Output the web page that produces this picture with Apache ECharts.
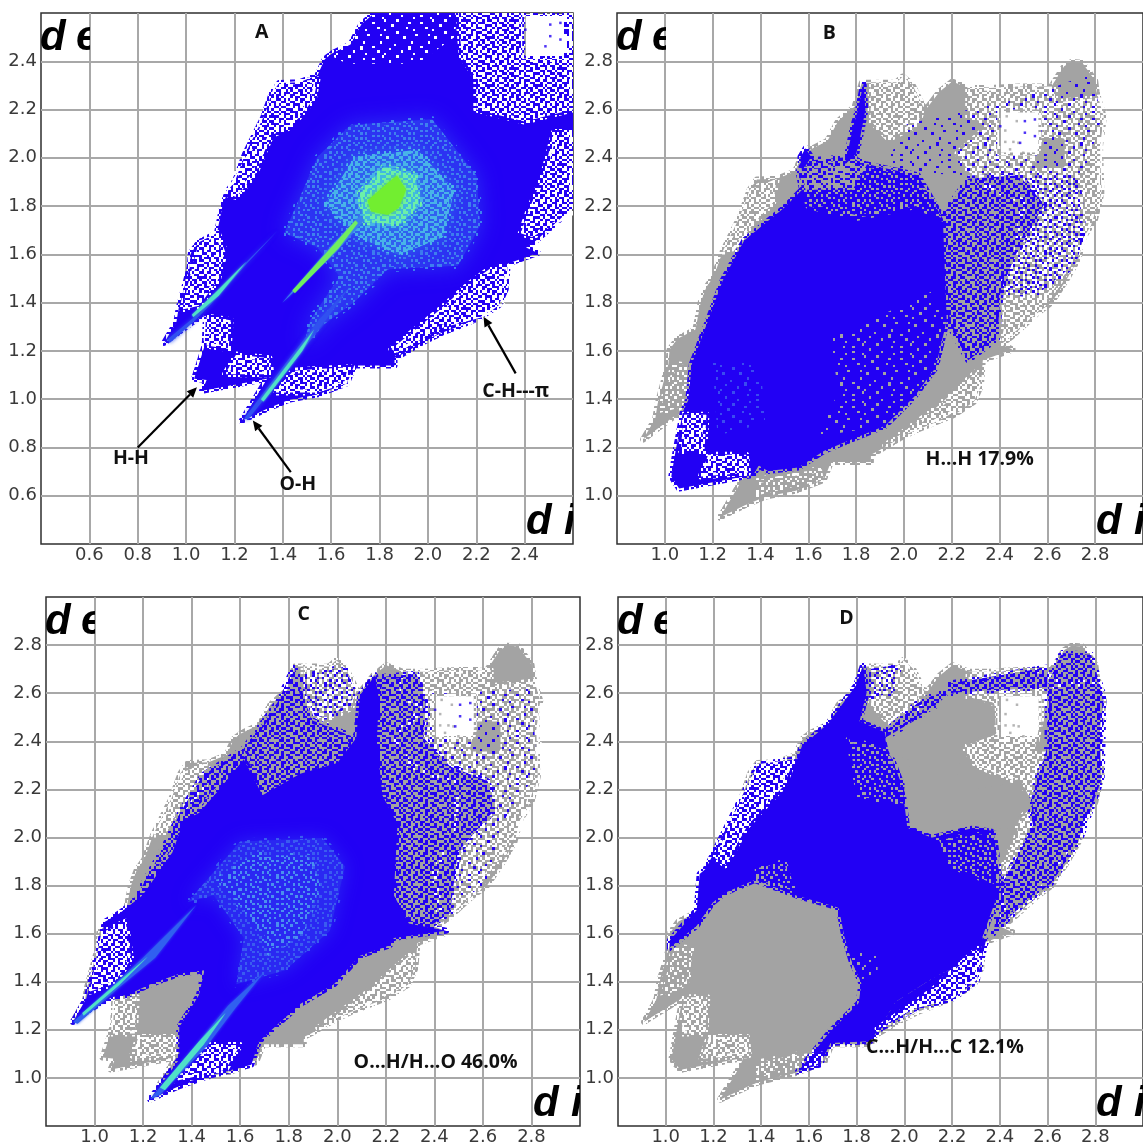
<!DOCTYPE html>
<html><head><meta charset="utf-8">
<style>html,body{margin:0;padding:0;background:#fff;overflow:hidden}#c{width:1143px;height:1146px}</style>
<script src="https://cdn.jsdelivr.net/npm/echarts@6/dist/echarts.min.js"></script>
</head><body><div id="c"></div>
<script>
const BLUE='#2200f4', GRAY='#a3a3a3', WHITE='#ffffff';
const axisRanges=[[0.4,2.6],[0.8,3.0],[0.8,3.0],[0.8,3.0]];
const grids=[{left:41,top:13,width:532,height:531},{left:617,top:13,width:532,height:531},{left:46,top:597,width:534,height:533},{left:618,top:597,width:532,height:530}];

// ---- stipple textures (fingerprint bins) ----
const tileDense=["X.X..XX.X.XX..X.X.XX",".XX.X..XX..X.XX..X.X","X..XX.X..XX.X..XX..X",".X...XX.X.X..X.X.XX.","XX.X.X..XX..XX..X..X","..XX..XX..X.X.XX.XX.","X...XX.X.XX..X..X..X",".XX.X...X..XX.XX.X..","X.X..XX.XX.X....XX.X","..XXX..X..X.XX.X..X.","XX...X.XX..X..XX.X.X",".X.XX.X..XX.X...XX..","X..X.XX.X...XX.X..XX",".XX..X..XX.X..XX.X..","X..XX.XX..X.XX...X.X","XX....X.XX..X.X.XX..","..X.XX.X..XX...XX..X","X.XX..X.X..X.XX..XX.",".X..X.XX.XX.X..X.X..","X..XX...X..XX.X..X.X"];
const tileMed=["X....X..X...X.X.....","..X.X.....X.....X..X",".....X.X....X.X.....","X.X......X.X.....X..","...X..X.....X..X...X",".X.....X.X.....X.X..","....X.....X.X.....X.","X.....X.X......X....","..X.X......X.X....X.",".....X.X......X.X...","X.X.....X..X.......X","....X.X.....X..X.X..",".X......X.X......X..","...X.X.....X.X.....X","X......X.X.....X.X..","..X.X.....X.X.......",".....X.X.......X.X.X","X.X.....X.X.X.......","...X.X.......X.X..X.",".X.....X.X.X.....X.."];
const tileSparse=["..X.......X.........",".......X.........X..","X...........X.......",".....X.............X","...........X...X....","..X.................",".......X.......X....","............X......X","X....X..............","..........X....X....","...X................",".........X.......X..","X...........X.......",".....X..............",".............X....X.",".X......X...........","....................","...........X......X.","....X...............","..........X....X...."];
const tiles={dense:tileDense,med:tileMed,sparse:tileSparse};

// ---- the whole fingerprint outline (d_i, d_e) ----
const fullOutline=[[0.909,1.233],[0.96,1.32],[0.97,1.38],[1.015,1.546],[1.02,1.606],[1.053,1.65],[1.128,1.689],[1.15,1.8],[1.174,1.865],[1.204,1.907],[1.242,2.012],[1.317,2.162],[1.355,2.268],[1.385,2.31],[1.469,2.313],[1.544,2.343],[1.574,2.41],[1.605,2.433],[1.68,2.47],[1.725,2.553],[1.794,2.613],[1.824,2.711],[1.862,2.711],[1.967,2.711],[1.995,2.737],[2.035,2.704],[2.08,2.613],[2.096,2.606],[2.149,2.674],[2.202,2.716],[2.27,2.689],[2.36,2.689],[2.48,2.696],[2.617,2.696],[2.67,2.779],[2.7,2.797],[2.746,2.794],[2.8,2.719],[2.806,2.674],[2.836,2.568],[2.82,2.448],[2.826,2.253],[2.8,2.147],[2.753,2.072],[2.73,1.982],[2.678,1.892],[2.617,1.8],[2.557,1.756],[2.45,1.659],[2.406,1.628],[2.454,1.606],[2.413,1.591],[2.33,1.561],[2.322,1.456],[2.292,1.388],[2.209,1.335],[2.118,1.298],[2.058,1.275],[1.982,1.238],[1.892,1.185],[1.862,1.17],[1.862,1.14],[1.695,1.14],[1.665,1.065],[1.544,1.02],[1.423,0.997],[1.333,0.959],[1.23,0.91],[1.335,1.085],[1.066,1.035],[1.085,1.08],[1.033,1.085],[1.054,1.148],[1.077,1.223],[1.082,1.346],[1.039,1.328],[1.0,1.3]];
const emptyBox=[[2.39,2.41],[2.575,2.41],[2.575,2.6],[2.39,2.6]];
const boxSpecksGray=[[2.43,2.572],[2.472,2.552],[2.424,2.513],[2.424,2.466],[2.458,2.466],[2.499,2.421],[2.444,2.435],[2.479,2.462]];
const boxSpecksBlue=[[2.506,2.552],[2.506,2.504],[2.548,2.559],[2.548,2.49],[2.403,2.531],[2.486,2.462]];

// ---- gray speckled zones shared by B, C, D ----
const gUR=[[2.269,2.689],[2.632,2.696],[2.632,2.629],[2.828,2.651],[2.836,2.569],[2.825,2.253],[2.753,2.027],[2.556,1.756],[2.405,1.629],[2.42,1.7],[2.4,1.85],[2.47,2.0],[2.5,2.22],[2.3,2.3],[2.224,2.418],[2.36,2.539],[2.269,2.569]];
const gTop=[[1.861,2.711],[1.967,2.711],[1.995,2.737],[2.035,2.704],[2.08,2.613],[2.058,2.539],[1.937,2.478],[1.861,2.554]];
const gLeft1=[[1.242,2.012],[1.317,2.163],[1.355,2.268],[1.468,2.313],[1.453,2.215],[1.363,2.117],[1.287,2.012]];
const gHH=[[0.977,1.343],[1.038,1.546],[1.113,1.538],[1.098,1.396],[1.06,1.365]];
const gLR=[[1.922,1.208],[2.118,1.35],[2.307,1.516],[2.322,1.456],[2.292,1.388],[2.118,1.298],[1.967,1.238]];
const gBot=[[1.378,1.0],[1.665,1.065],[1.657,1.11],[1.544,1.095],[1.393,1.065]];
const gWedge1=[[1.076,1.335],[1.174,1.335],[1.166,1.185],[1.068,1.185]];
const gWedge2=[[1.181,1.17],[1.34,1.17],[1.348,1.095],[1.151,1.08]];
const gChunk=[[2.56,2.37],[2.66,2.37],[2.66,2.47],[2.58,2.47]];

// ---- panel A ----
const aWhiteUL=[[1.368,2.31],[1.543,2.325],[1.528,2.243],[1.436,2.13],[1.352,2.093],[1.283,1.928],[1.207,1.838],[1.161,1.853],[1.238,1.988],[1.299,2.108],[1.337,2.213]];
const aWhiteTop=[[1.735,2.543],[1.773,2.6],[2.125,2.6],[2.109,2.5],[1.956,2.39],[1.666,2.39],[1.605,2.42]];
const aWhiteTR=[[2.125,2.6],[2.6,2.6],[2.6,2.2],[2.4,2.15],[2.2,2.2],[2.2,2.33],[2.14,2.42]];
const aWhiteRight=[[2.522,2.107],[2.6,2.107],[2.6,1.762],[2.43,1.672],[2.384,1.687],[2.415,1.777],[2.476,1.927]];
const aWhiteCH=[[2.338,1.552],[2.308,1.402],[2.232,1.342],[2.063,1.297],[1.872,1.192],[1.849,1.208],[2.033,1.357],[2.17,1.477],[2.262,1.545]];
const aWhiteOH=[[1.36,1.028],[1.543,1.028],[1.666,1.065],[1.681,1.132],[1.543,1.125],[1.444,1.118]];
const aWhiteWedge=[[1.161,1.103],[1.207,1.185],[1.345,1.17],[1.352,1.103]];
const aWhiteNotch=[[1.085,1.343],[1.184,1.327],[1.176,1.208],[1.085,1.222]];
const aWhiteHH=[[0.985,1.372],[1.008,1.477],[1.054,1.656],[1.131,1.688],[1.161,1.613],[1.131,1.493],[1.054,1.387]];
const aHaze=[[1.406,1.689],[1.543,2.003],[1.681,2.137],[2.018,2.16],[2.201,1.926],[2.216,1.719],[2.124,1.553],[1.834,1.538],[1.696,1.403],[1.574,1.313],[1.482,1.208],[1.513,1.328],[1.635,1.508],[1.543,1.628]];
const aMid=[[1.574,1.808],[1.697,2.003],[1.956,2.033],[2.109,1.867],[2.063,1.672],[1.88,1.597],[1.712,1.672]];
const aCore=[[1.719,1.853],[1.819,1.965],[1.949,1.929],[1.964,1.808],[1.887,1.725],[1.735,1.733]];
const aHeart=[[1.75,1.823],[1.819,1.883],[1.872,1.928],[1.91,1.868],[1.88,1.793],[1.834,1.763],[1.765,1.778]];
const aStreakHHOuter=[[0.92,1.245],[1.054,1.357],[1.2,1.52],[1.38,1.7],[1.25,1.56],[1.1,1.39],[1.03,1.32],[0.935,1.235]];
const aStreakHHInner=[[1.024,1.35],[1.12,1.44],[1.25,1.57],[1.135,1.43],[1.03,1.34]];
const aStreakMidOuter=[[1.398,1.4],[1.6,1.635],[1.72,1.76],[1.735,1.74],[1.62,1.61]];
const aStreakMidInner=[[1.44,1.45],[1.62,1.65],[1.7,1.74],[1.71,1.73],[1.63,1.625],[1.45,1.44]];
const aStreakOHOuter=[[1.24,0.92],[1.42,1.16],[1.55,1.33],[1.68,1.47],[1.58,1.33],[1.45,1.16],[1.255,0.915]];
const aStreakOHInner=[[1.31,1.0],[1.47,1.21],[1.53,1.29],[1.48,1.2],[1.32,0.99]];
const aTexts=[[1.313,2.52,'A'],[0.772,0.755,'H-H'],[1.462,0.648,'O-H'],[2.363,1.032,'C-H---π']];
const aArrows=[[[0.8,0.8],[1.045,1.049]],[[1.433,0.698],[1.276,0.912]],[[2.363,1.107],[2.23,1.342]]];

// ---- panel B ----
const bSolid=[[1.027,1.08],[1.06,1.03],[1.37,1.087],[1.393,1.125],[1.431,1.102],[1.559,1.117],[1.665,1.185],[1.755,1.223],[1.922,1.29],[2.043,1.41],[2.133,1.531],[2.179,1.726],[2.163,2.148],[2.058,2.328],[1.846,2.373],[1.786,2.268],[1.574,2.268],[1.499,2.193],[1.332,2.057],[1.242,1.892],[1.181,1.726],[1.113,1.546],[1.098,1.396],[1.076,1.35],[1.045,1.185]];
const bSpike=[[1.831,2.711],[1.839,2.599],[1.82,2.5],[1.801,2.418],[1.755,2.373],[1.786,2.524],[1.808,2.6]];
const bBlob=[[1.567,2.403],[1.589,2.44],[1.612,2.403],[1.574,2.343]];
const bInner=[[2.163,2.163],[2.269,2.313],[2.481,2.328],[2.587,2.208],[2.466,1.997],[2.405,1.847],[2.39,1.651],[2.269,1.561],[2.179,1.726]];
const bOuter=[[2.481,2.328],[2.723,2.328],[2.753,2.087],[2.723,1.967],[2.556,1.832],[2.405,1.847],[2.466,1.997],[2.587,2.208]];
const bTopSparse=[[1.907,2.343],[2.012,2.539],[2.269,2.599],[2.42,2.629],[2.617,2.689],[2.783,2.749],[2.828,2.569],[2.753,2.328],[2.269,2.328]];
const bUpperLeft=[[1.559,2.343],[1.589,2.388],[1.771,2.403],[1.846,2.373],[1.786,2.268],[1.574,2.268]];
const bGrayLR=[[1.695,1.651],[2.118,1.847],[2.179,1.726],[2.133,1.531],[2.043,1.41],[1.922,1.29],[1.635,1.245],[1.725,1.426]];
const bGrayTop=[[1.574,2.35],[1.846,2.373],[2.058,2.328],[2.163,2.148],[2.05,2.2],[1.8,2.15],[1.6,2.2]];
const bWhite1=[[1.076,1.335],[1.174,1.335],[1.166,1.185],[1.068,1.185]];
const bWhite2=[[1.181,1.17],[1.34,1.17],[1.348,1.095],[1.151,1.08]];
const bLight=[[1.2,1.55],[1.4,1.55],[1.42,1.3],[1.22,1.25]];
const bTexts=[[1.688,2.916,'B'],[2.317,1.151,'H...H 17.9%']];

// ---- panel C ----
const cSolid=[[0.912,1.233],[0.966,1.33],[0.989,1.419],[1.043,1.649],[1.105,1.686],[1.198,1.76],[1.321,1.938],[1.368,2.072],[1.43,2.102],[1.507,2.191],[1.615,2.325],[1.692,2.176],[1.847,2.265],[2.0,2.31],[2.078,2.414],[2.094,2.592],[2.156,2.674],[2.171,2.577],[2.163,2.399],[2.186,2.176],[2.248,2.057],[2.233,1.76],[2.295,1.642],[2.449,1.612],[2.356,1.6],[2.233,1.582],[2.217,1.552],[2.094,1.508],[1.986,1.389],[1.847,1.307],[1.677,1.151],[1.646,1.055],[1.476,1.01],[1.337,0.961],[1.229,0.911],[1.349,1.077],[1.349,1.211],[1.43,1.345],[1.453,1.448],[1.352,1.434],[1.229,1.389],[1.136,1.345],[1.074,1.337],[0.981,1.285]];
const cUpper=[[1.615,2.369],[1.754,2.562],[1.823,2.711],[1.893,2.488],[2.078,2.414],[2.0,2.31],[1.692,2.176]];
const cTopSparse=[[1.847,2.666],[2.032,2.711],[2.078,2.592],[2.0,2.503],[1.908,2.503]];
const cRightDense=[[2.171,2.666],[2.326,2.681],[2.364,2.562],[2.356,2.414],[2.465,2.295],[2.619,2.235],[2.65,2.117],[2.496,1.939],[2.465,1.686],[2.372,1.627],[2.295,1.642],[2.233,1.76],[2.248,2.057],[2.186,2.176],[2.163,2.399]];
const cRightSparse=[[2.387,2.592],[2.805,2.622],[2.82,2.265],[2.696,2.087],[2.619,1.805],[2.488,1.731],[2.496,1.939],[2.65,2.117],[2.619,2.235],[2.465,2.295],[2.356,2.414]];
const cLeftBand=[[1.167,1.745],[1.29,1.968],[1.352,2.102],[1.445,2.258],[1.615,2.369],[1.615,2.325],[1.368,2.072],[1.198,1.76]];
const cWhiteHH=[[0.981,1.359],[1.028,1.604],[1.128,1.649],[1.151,1.493],[1.074,1.389]];
const cWhiteOH=[[1.337,0.988],[1.538,1.033],[1.6,1.137],[1.476,1.137],[1.368,1.018]];
const cGlow=[[1.383,1.731],[1.6,1.983],[1.939,1.998],[2.032,1.879],[1.97,1.612],[1.785,1.448],[1.584,1.389],[1.615,1.582],[1.491,1.76]];
const cGlowInner=[[1.5,1.82],[1.65,1.93],[1.88,1.92],[1.93,1.8],[1.85,1.6],[1.72,1.52],[1.66,1.65],[1.56,1.76]];
const cStreakHHOuter=[[0.912,1.233],[1.06,1.37],[1.2,1.5],[1.42,1.72],[1.25,1.5],[1.1,1.375],[0.93,1.225]];
const cStreakHHInner=[[0.95,1.27],[1.1,1.4],[1.22,1.505],[1.1,1.385],[0.955,1.26]];
const cStreakOHOuter=[[1.229,0.911],[1.42,1.14],[1.55,1.3],[1.7,1.44],[1.58,1.29],[1.46,1.13],[1.27,0.93]];
const cStreakOHInner=[[1.27,0.96],[1.43,1.15],[1.54,1.27],[1.45,1.14],[1.29,0.95]];
const cTexts=[[1.862,2.928,'C'],[2.405,1.064,'O...H/H...O 46.0%']];

// ---- panel D ----
const dSolid=[[1.017,1.526],[1.017,1.571],[1.13,1.698],[1.142,1.848],[1.168,1.87],[1.206,1.945],[1.342,2.214],[1.388,2.304],[1.554,2.326],[1.57,2.378],[1.683,2.476],[1.797,2.632],[1.827,2.715],[1.842,2.603],[1.812,2.483],[1.918,2.438],[1.933,2.363],[2.009,2.169],[2.024,2.049],[2.115,2.012],[2.282,2.05],[2.373,2.035],[2.403,1.795],[2.327,1.586],[2.32,1.511],[2.13,1.422],[1.964,1.317],[1.888,1.197],[1.857,1.152],[1.691,1.145],[1.645,1.055],[1.527,1.021],[1.45,1.2]];
const dBig=[[0.911,1.235],[0.964,1.332],[0.979,1.422],[1.017,1.526],[1.138,1.623],[1.206,1.72],[1.251,1.758],[1.373,1.81],[1.554,1.743],[1.714,1.698],[1.736,1.586],[1.767,1.481],[1.807,1.392],[1.797,1.317],[1.676,1.197],[1.532,1.018],[1.327,0.966],[1.229,0.913],[1.312,1.048],[1.335,1.115],[1.062,1.033],[1.024,1.078],[1.07,1.332]];
const dUR=[[1.933,2.408],[2.115,2.513],[2.191,2.588],[2.365,2.55],[2.373,2.438],[2.251,2.393],[2.221,2.259],[2.297,2.2],[2.479,2.229],[2.524,2.139],[2.433,2.035],[2.282,2.05],[2.115,2.012],[2.024,2.049],[2.009,2.169],[2.024,2.319],[1.948,2.349]];
const dBandRight=[[2.6,2.633],[2.63,2.707],[2.66,2.767],[2.782,2.76],[2.835,2.588],[2.827,2.244],[2.736,1.99],[2.615,1.81],[2.494,1.72],[2.373,1.601],[2.403,1.795],[2.479,1.93],[2.539,2.05],[2.524,2.139],[2.6,2.378]];
const dBandTop=[[2.191,2.64],[2.6,2.707],[2.6,2.625],[2.206,2.603]];
const dBandUp=[[1.918,2.438],[2.054,2.558],[2.115,2.588],[2.206,2.618],[2.206,2.59],[2.115,2.54],[2.04,2.49],[1.93,2.41]];
const dBandLow=[[1.888,1.197],[2.039,1.287],[2.206,1.332],[2.304,1.407],[2.32,1.481],[2.342,1.571],[2.327,1.586],[2.32,1.511],[2.13,1.422],[1.964,1.317]];
const dGrayA=[[1.767,2.408],[1.933,2.363],[2.009,2.139],[1.812,2.169]];
const dGrayB=[[2.145,1.99],[2.388,2.02],[2.403,1.795],[2.191,1.885]];
const dGrayC=[[1.373,1.87],[1.509,1.9],[1.539,1.78],[1.373,1.81]];
const dGrayD=[[1.751,1.541],[1.888,1.511],[1.888,1.422],[1.797,1.407]];
const dTopBlue=[[1.85,2.7],[1.98,2.72],[1.95,2.6],[1.85,2.58]];
const dWhiteUL=[[1.206,1.915],[1.342,2.221],[1.388,2.304],[1.539,2.326],[1.494,2.214],[1.342,2.049],[1.251,1.885]];
const dWhiteLR=[[1.888,1.205],[2.115,1.362],[2.312,1.541],[2.32,1.481],[2.304,1.407],[2.206,1.332],[2.039,1.287]];
const dTexts=[[1.757,2.91,'D'],[2.17,1.127,'C...H/H...C 12.1%']];

// ---- helpers ----
const patCache={};
function paint(p){
  if(typeof p==='string') return p;
  const key=p[0]+p[1]; if(patCache[key]) return patCache[key];
  const rows=tiles[p[0]], s=2.42, size=Math.round(rows.length*s);
  const cv=document.createElement('canvas'); cv.width=size; cv.height=size;
  const g=cv.getContext('2d'); g.fillStyle=p[1];
  rows.forEach((r,y)=>{for(let x=0;x<r.length;x++) if(r[x]==='X'){
    const x0=Math.round(x*s),y0=Math.round(y*s);
    g.fillRect(x0,y0,Math.round((x+1)*s)-x0,Math.round((y+1)*s)-y0);}});
  return patCache[key]={image:cv,repeat:'repeat'};
}
function edgeOf(p){
  if(typeof p==='string') return ['dense',p];
  if(p[0]==='dense') return ['med',p[1]];
  if(p[0]==='med') return ['sparse',p[1]];
  return null;
}
function area(pts){let a=0;pts.forEach((p,i)=>{const q=pts[(i+1)%pts.length];a+=p[0]*q[1]-q[0]*p[1];});return a;}
function region(pi,poly,fill,opt){
  opt=opt||{};
  return {type:'custom',coordinateSystem:'cartesian2d',xAxisIndex:pi,yAxisIndex:pi,clip:true,silent:true,animation:false,data:[[0]],
    renderItem:function(params,api){
      const style={fill:paint(fill)};
      if(opt.blur){style.shadowBlur=opt.blur;style.shadowColor=fill;}
      else{
        const e=edgeOf(fill);
        if(e){style.stroke=paint(e);style.lineWidth=6;style.lineJoin='round';}
      }
      const outer=poly.map(p=>api.coord(p));
      if(!opt.hole) return {type:'polygon',shape:{points:outer},style};
      let inner=opt.hole.map(p=>api.coord(p));
      if(area(outer)*area(inner)>0) inner=inner.slice().reverse();
      const d=[outer,inner].map(r=>'M'+r.map(p=>p[0].toFixed(1)+' '+p[1].toFixed(1)).join('L')+'Z').join('');
      return {type:'path',shape:{pathData:d},style};
    }};
}
function specks(pi,pts,color){
  return {type:'scatter',xAxisIndex:pi,yAxisIndex:pi,symbol:'rect',symbolSize:2.5,silent:true,animation:false,itemStyle:{color},data:pts};
}
function texts(pi,rows){
  return {type:'custom',coordinateSystem:'cartesian2d',xAxisIndex:pi,yAxisIndex:pi,silent:true,animation:false,z:20,data:rows.map((r,i)=>[i]),
    renderItem:function(params,api){
      const r=rows[params.dataIndex],c=api.coord([r[0],r[1]]);
      return {type:'text',style:{text:r[2],x:c[0],y:c[1],align:'center',verticalAlign:'middle',fill:'#111',font:'700 19.5px "Open Sans"'}};
    }};
}
function arrows(pi,rows){
  return {type:'custom',coordinateSystem:'cartesian2d',xAxisIndex:pi,yAxisIndex:pi,silent:true,animation:false,z:20,data:rows.map((r,i)=>[i]),
    renderItem:function(params,api){
      const r=rows[params.dataIndex],a=api.coord(r[0]),b=api.coord(r[1]);
      const t=Math.atan2(b[1]-a[1],b[0]-a[0]),L=10,W=4.5;
      const bx=b[0]-L*Math.cos(t),by=b[1]-L*Math.sin(t);
      return {type:'group',children:[
        {type:'line',shape:{x1:a[0],y1:a[1],x2:bx,y2:by},style:{stroke:'#000',lineWidth:2.2}},
        {type:'polygon',shape:{points:[b,[bx-W*Math.sin(t),by+W*Math.cos(t)],[bx+W*Math.sin(t),by-W*Math.cos(t)]]},style:{fill:'#000'}}
      ]};
    }};
}
function letters(pi){
  const R=axisRanges[pi];
  return {type:'custom',coordinateSystem:'cartesian2d',xAxisIndex:pi,yAxisIndex:pi,silent:true,animation:false,z:21,data:[[0]],
    renderItem:function(params,api){
      const tl=api.coord([R[0],R[1]]),br=api.coord([R[1],R[0]]);
      const font='italic 700 42px "Liberation Sans"';
      const t=(s,x,y)=>({type:'text',style:{text:s,x,y,align:'left',verticalAlign:'bottom',fill:'#000',font}});
      return {type:'group',children:[
        {type:'group',clipPath:{type:'rect',shape:{x:tl[0],y:tl[1],width:49,height:60}},children:[t('d',tl[0]-1,tl[1]+46),t('e',tl[0]+35,tl[1]+46)]},
        {type:'group',clipPath:{type:'rect',shape:{x:br[0]-60,y:br[1]-60,width:60,height:60}},children:[t('d',br[0]-47,br[1]-1),t('i',br[0]-9,br[1]-1)]}
      ]};
    }};
}
const hole={hole:emptyBox};
function grayBase(pi){
  return [region(pi,fullOutline,GRAY,hole),region(pi,gUR,['dense',WHITE],hole),region(pi,gTop,['dense',WHITE]),region(pi,gLeft1,['dense',WHITE]),region(pi,gHH,['med',WHITE]),region(pi,gLR,['dense',WHITE]),region(pi,gBot,['med',WHITE]),region(pi,gChunk,GRAY)];
}

// ---- layers ----
const layersA=[
  region(0,fullOutline,BLUE,hole),
  region(0,aWhiteUL,['dense',WHITE]),region(0,aWhiteTop,['sparse',WHITE]),region(0,aWhiteTR,['dense',WHITE],hole),region(0,aWhiteRight,['dense',WHITE]),
  region(0,aWhiteCH,['dense',WHITE]),region(0,aWhiteOH,['dense',WHITE]),region(0,aWhiteWedge,['dense',WHITE]),region(0,aWhiteNotch,['dense',WHITE]),region(0,aWhiteHH,['dense',WHITE]),
  region(0,aHaze,'#2c34f2',{blur:22}),region(0,aHaze,['med','#3f80ee']),
  region(0,aMid,'#3060f0',{blur:14}),region(0,aMid,['dense','#48b4e8']),
  region(0,aCore,'#40b8e0',{blur:8}),region(0,aCore,['dense','#6cf0a8']),
  region(0,aHeart,'#72ee30',{blur:5}),
  region(0,aStreakHHOuter,'#3050f0',{blur:4}),region(0,aStreakHHInner,'#50e0c8',{blur:2}),
  region(0,aStreakMidOuter,'#3a80ee',{blur:2}),region(0,aStreakMidInner,'#70ee60',{blur:1}),
  region(0,aStreakOHOuter,'#3050f0',{blur:4}),region(0,aStreakOHInner,'#50e0c8',{blur:2}),
  specks(0,boxSpecksBlue,BLUE),texts(0,aTexts),arrows(0,aArrows),letters(0)
];
const layersB=[...grayBase(1),
  region(1,bSolid,BLUE),region(1,bSpike,BLUE),region(1,bBlob,BLUE),
  region(1,bInner,['dense',BLUE]),region(1,bOuter,['med',BLUE]),region(1,bTopSparse,['sparse',BLUE],hole),region(1,bUpperLeft,['dense',BLUE]),
  region(1,bGrayLR,['sparse',GRAY]),region(1,bGrayTop,['med',GRAY]),region(1,bWhite1,['dense',WHITE]),region(1,bWhite2,['dense',WHITE]),region(1,bLight,['sparse','#3a4cf0']),
  specks(1,boxSpecksGray,GRAY),specks(1,boxSpecksBlue,BLUE),texts(1,bTexts),letters(1)
];
const layersC=[...grayBase(2),region(2,gWedge1,['dense',WHITE]),region(2,gWedge2,['dense',WHITE]),
  region(2,cSolid,BLUE),region(2,cUpper,['dense',BLUE]),region(2,cTopSparse,['med',BLUE]),region(2,cRightDense,['dense',BLUE]),region(2,cRightSparse,['sparse',BLUE],hole),region(2,cLeftBand,['dense',BLUE]),
  region(2,cWhiteHH,['dense',WHITE]),region(2,cWhiteOH,['dense',WHITE]),
  region(2,cGlow,'#2a28f2',{blur:18}),region(2,cGlow,['med','#3a5cf0']),region(2,cGlowInner,['med','#4a90ee']),
  region(2,cStreakHHOuter,'#3060f0',{blur:3}),region(2,cStreakHHInner,'#50e0c8',{blur:1}),
  region(2,cStreakOHOuter,'#3060f0',{blur:3}),region(2,cStreakOHInner,'#50e0c8',{blur:1}),
  specks(2,boxSpecksGray,GRAY),specks(2,boxSpecksBlue,BLUE),texts(2,cTexts),letters(2)
];
const layersD=[...grayBase(3),
  region(3,dSolid,BLUE),region(3,dBandLow,BLUE),
  region(3,dBandRight,['dense',BLUE]),region(3,dBandTop,['dense',BLUE]),region(3,dBandUp,['dense',BLUE]),region(3,dTopBlue,['med',BLUE]),
  region(3,dWhiteUL,['dense',WHITE]),region(3,dWhiteLR,['dense',WHITE]),
  region(3,dGrayA,['med',GRAY]),region(3,dGrayB,['med',GRAY]),region(3,dGrayC,['med',GRAY]),region(3,dGrayD,['sparse',GRAY]),
  region(3,dBig,GRAY),region(3,dUR,GRAY),
  region(3,gHH,['med',WHITE]),region(3,gWedge1,['dense',WHITE]),region(3,gWedge2,['dense',WHITE]),region(3,gBot,['med',WHITE]),
  specks(3,boxSpecksGray,GRAY),texts(3,dTexts),letters(3)
];

function axis(pi,isX){
  const R=axisRanges[pi];
  return {type:'value',gridIndex:pi,min:R[0],max:R[1],interval:0.2,
    axisLine:{show:false},axisTick:{show:false},
    axisLabel:{show:true,showMinLabel:false,showMaxLabel:false,margin:isX?2:4,color:'#3a3a3a',fontFamily:'DejaVu Sans',fontSize:18,formatter:v=>v.toFixed(1)},
    splitLine:{show:true,showMinLine:false,showMaxLine:false,lineStyle:{color:'#a8a8a8',width:2}}};
}
const chart=echarts.init(document.getElementById('c'),null,{renderer:'canvas',width:1143,height:1146});
chart.setOption({animation:false,backgroundColor:'#fff',
  grid:grids.map(g=>Object.assign({show:true,borderColor:'#2f2f2f',borderWidth:1.5,backgroundColor:'transparent'},g)),
  xAxis:[0,1,2,3].map(i=>axis(i,true)),
  yAxis:[0,1,2,3].map(i=>axis(i,false)),
  series:[...layersA,...layersB,...layersC,...layersD]});
</script></body></html>
